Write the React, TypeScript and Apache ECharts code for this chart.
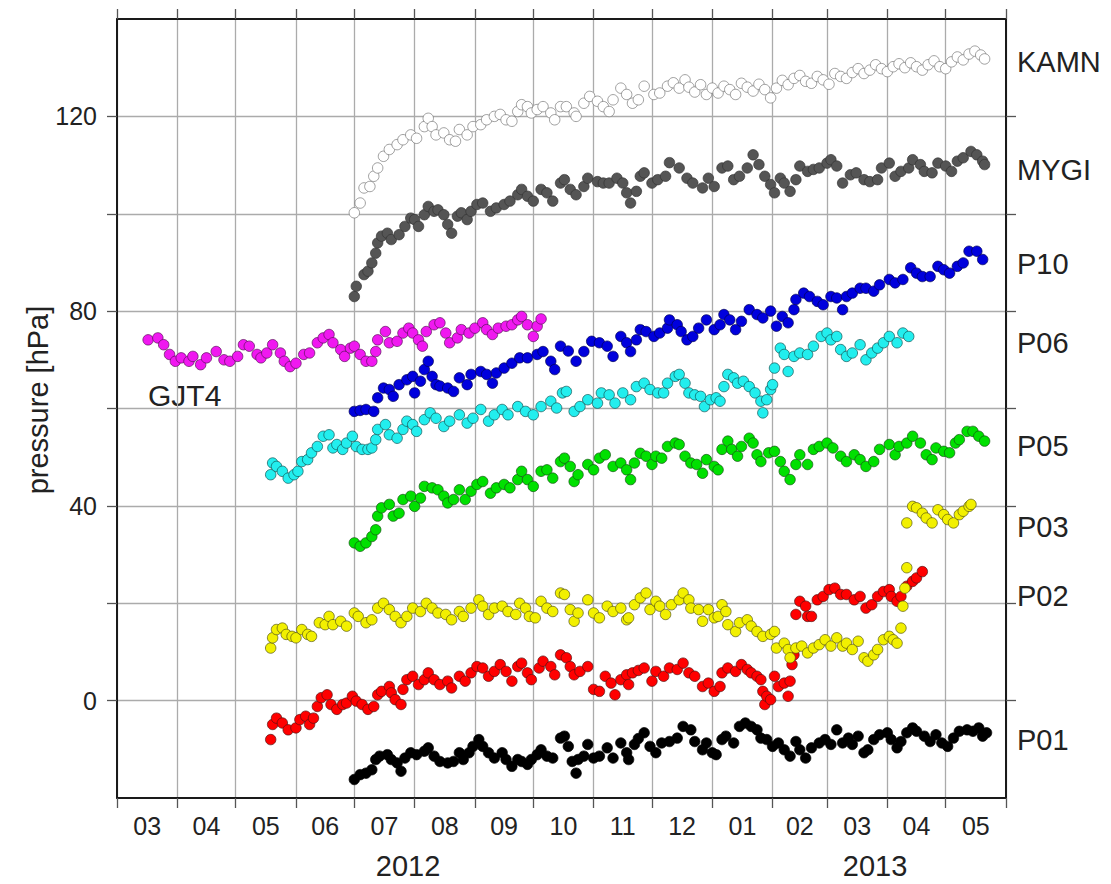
import React, { useEffect, useRef } from 'react';
import * as echarts from 'echarts';

// x = day number counted from 2012-03-01
const MONTH_LABELS = ['03', '04', '05', '06', '07', '08', '09', '10', '11', '12', '01', '02', '03', '04', '05'];
const MONTH_STARTS = [0, 31, 61, 92, 122, 153, 184, 214, 245, 275, 306, 337, 365, 396, 426, 457];
const Y_TICKS = [0, 20, 40, 60, 80, 100, 120];
const Y_LABELED = [0, 40, 80, 120];

const KAMN: [number, number][] = [[122,100.2],[125,102.2],[127,105.3],[130,105.6],[132,107.7],[134,109.4],[137,111.8],[140,113.2],[144,114.2],[147,115.2],[151,116.2],[154,115.5],[158,117.9],[160,119.6],[162,117.9],[164,116.2],[168,116.6],[171,115.2],[174,114.9],[176,117.3],[180,116.2],[183,117.9],[187,118.3],[190,119.3],[194,120],[197,120.4],[200,119.3],[203,119],[206,121],[208,122.4],[211,122],[213,120.7],[216,121.4],[219,122],[223,120.7],[225,119.3],[228,122],[231,122],[235,120.7],[236,120],[240,122.7],[243,124.1],[247,123.1],[250,122],[253,121],[255,123.4],[259,125.8],[262,124.5],[265,122.7],[268,123.4],[271,126.2],[276,124.5],[279,124.8],[283,126.2],[286,126.9],[289,125.8],[292,127.5],[294,126],[297,125],[300,126.5],[303,124.5],[306,125.8],[309,124.8],[312,126.2],[315,125.5],[318,124.5],[321,126.8],[324,126],[327,125.2],[330,126.6],[333,125.5],[336,123.8],[339,125.8],[342,127.4],[345,126.5],[348,127.8],[351,128.4],[354,127.2],[357,126.8],[360,128.2],[363,127.5],[366,126.6],[369,128.8],[372,128.2],[375,127.8],[378,129],[381,129.8],[384,128.8],[387,129.5],[390,130.6],[393,129.8],[396,129.2],[399,130.2],[402,130.8],[405,130],[408,131],[411,130.2],[414,129.5],[417,130.6],[420,131.4],[423,130.2],[426,129.8],[429,131.2],[432,132.2],[435,131.6],[438,132.8],[441,133.4],[444,132.6],[446,131.8]];
const MYGI: [number, number][] = [[122,83],[123,85.1],[127,87.5],[129,88.2],[131,89.9],[133,91.9],[134,94],[136,95.4],[139,96],[141,94.7],[145,95.7],[148,97.4],[151,99.1],[153,98.8],[155,97.4],[158,99.8],[160,101.5],[163,100.5],[165,100.8],[168,99.8],[170,97.8],[172,96],[175,99.5],[177,100.2],[180,98.8],[182,100.5],[185,101.9],[188,102.2],[192,100.5],[195,101.2],[199,101.9],[202,102.6],[206,103.9],[208,105],[211,103.6],[214,102.6],[218,105],[221,104.3],[224,102.6],[228,106.3],[230,107],[233,105],[236,103.9],[240,105.6],[242,107.3],[247,106.6],[250,106.3],[253,106.3],[257,107.3],[260,106.3],[262,104.3],[264,102.2],[267,104.6],[269,107.7],[271,108.4],[275,106.3],[278,107],[282,107.7],[284,110.5],[289,109.4],[293,107.3],[296,106.3],[301,105.3],[304,107.3],[307,105.6],[311,109.4],[314,109.8],[317,107],[320,107.7],[324,109.4],[327,112.1],[330,110.1],[333,107.7],[336,106],[338,104.3],[341,107.3],[343,106.3],[346,104.6],[349,107],[351,109.8],[355,108.7],[358,109.1],[361,109.4],[365,110.4],[367,111.1],[370,109.8],[373,106.3],[377,108],[380,108.4],[384,107],[387,106.6],[391,107],[393,109.4],[397,110.4],[400,107.7],[403,108.7],[407,109.4],[409,111.1],[413,110.1],[415,108.7],[419,108.4],[422,110.4],[426,109.8],[429,108.7],[432,110.8],[435,111.5],[439,112.8],[442,112.1],[445,110.8],[446,110.1]];
const P10: [number, number][] = [[122,59.4],[125,59.6],[128,59.8],[132,59.4],[134,62.2],[137,64.2],[140,63.9],[142,62.5],[145,64.9],[149,65.9],[152,66.6],[153,63.2],[156,65.6],[158,68],[160,69.7],[162,66.6],[164,64.9],[166,64.6],[170,64.2],[173,63.5],[176,66.3],[180,64.9],[182,67],[187,67.6],[190,67],[193,65.2],[195,67.3],[199,68.3],[203,69.3],[207,70.4],[211,70.4],[216,71.1],[219,71.7],[223,69.7],[225,68],[228,72.8],[232,71.8],[236,69.7],[240,71.7],[244,73.8],[248,73.5],[252,72.8],[255,70.7],[259,74.8],[262,73.5],[264,71.7],[267,74.1],[269,76.2],[272,75.8],[276,74.8],[279,75.5],[283,76.5],[284,78.2],[288,77.2],[290,75.8],[293,74.1],[296,74.8],[299,76.5],[303,78.2],[307,76.2],[310,77.2],[312,79.3],[315,78.2],[318,76.2],[321,77.9],[325,80.3],[329,79.3],[332,78.6],[336,80],[339,76.9],[342,78.9],[345,77.6],[348,80.3],[349,82.4],[353,83.7],[356,83],[360,82],[363,81.3],[367,83],[370,82.7],[373,80.3],[375,83],[378,83.7],[382,84.7],[385,84.7],[389,84.1],[392,85.4],[397,86.5],[400,85.8],[404,86.5],[408,88.9],[411,87.8],[414,87.1],[418,87.1],[422,89.2],[425,88.5],[428,87.8],[432,89.2],[435,89.9],[438,92.3],[442,92.3],[445,90.6]];
const GJT4: [number, number][] = [[16,74.1],[21,74.5],[24,73.1],[27,71.1],[30,69.7],[33,70.4],[37,69.7],[39,70.7],[43,69],[46,70.4],[51,71.7],[55,70],[58,69.7],[62,70.7],[65,73.1],[68,72.8],[72,71.1],[74,70.4],[77,71.4],[80,73.1],[84,71.4],[86,69.7],[89,68.6],[92,69.3],[96,71.1],[99,71.4],[103,73.5],[106,74.5],[109,75.2],[111,73.5],[115,72.1],[117,70.7],[120,72.4],[122,72.8],[125,71.1],[128,69.7],[131,69.7],[133,71.7],[134,74.1],[138,75.8],[140,73.5],[144,73.8],[147,75.5],[150,76.5],[152,75.5],[155,74.1],[157,72.8],[159,75.8],[163,77.2],[166,77.6],[169,75.5],[171,73.5],[175,74.5],[177,76.2],[181,75.5],[184,76.5],[188,77.6],[190,76.2],[193,75.2],[196,76.5],[200,76.9],[203,77.2],[206,78.2],[208,78.9],[211,77.2],[214,74.8],[216,76.9],[218,78.4]];
const P06: [number, number][] = [[79,46.4],[80,48.8],[82,48.1],[85,47.1],[88,45.7],[91,46.4],[93,47.1],[95,49.1],[98,49.5],[100,50.9],[103,52.2],[106,54.3],[109,54.6],[111,51.9],[113,52.6],[116,51.6],[118,52.9],[121,54.3],[123,52.2],[126,51.6],[129,51.6],[131,51.9],[133,53.6],[134,55.7],[138,56.7],[140,54.6],[144,53.9],[147,55.7],[149,57.4],[152,56.7],[154,55.3],[158,57.7],[161,59.1],[164,58],[168,56.3],[171,57.4],[176,58.7],[180,57],[183,58],[187,59.8],[191,57.4],[194,58.7],[198,59.8],[201,58.7],[206,60.4],[210,59.4],[214,58.7],[218,60.4],[223,61.5],[226,60.1],[229,63.2],[231,63.5],[235,59.4],[238,60.4],[242,61.8],[247,61.1],[249,63.2],[253,62.8],[256,61.1],[260,63.2],[264,61.8],[267,64.5],[271,65.2],[274,63.9],[278,63.2],[281,63.2],[283,65.2],[287,66.6],[289,67],[292,65.2],[294,63.2],[297,62.8],[300,62.5],[302,60.4],[305,61.8],[308,62.2],[310,61.5],[312,64.5],[314,67],[317,66.3],[319,65.2],[322,65.6],[325,64.5],[328,63.2],[331,61.5],[332,59.1],[334,61.8],[336,63.9],[337,64.9],[338,68.3],[341,72.4],[343,71.1],[345,67.6],[348,70.7],[351,71.4],[355,71.1],[358,72.8],[362,74.8],[365,75.5],[367,74.1],[370,74.8],[372,72.1],[375,70.7],[378,71.4],[382,73.1],[385,70],[388,71.4],[391,72.4],[394,73.5],[397,74.8],[401,73.5],[404,75.5],[407,74.8]];
const P05: [number, number][] = [[122,32.4],[125,31.7],[128,32.4],[131,33.7],[133,35.1],[134,37.9],[136,39.6],[140,40.3],[142,37.9],[145,38.5],[147,41.3],[151,42],[153,39.9],[156,41.6],[158,44],[162,43.7],[165,43.3],[168,42],[170,40.6],[173,41.3],[176,43.3],[179,41.3],[182,43],[185,44.4],[188,45],[192,42.6],[195,43.7],[199,44.4],[202,43.7],[206,45.4],[208,47.1],[211,45.4],[214,44],[218,47.1],[221,47.4],[224,45.7],[228,49.1],[230,49.8],[233,48.1],[235,45],[237,46.4],[242,48.5],[245,47.4],[248,49.8],[251,50.5],[255,48.1],[259,48.8],[262,47.4],[264,45.4],[266,48.8],[269,50.8],[272,50.2],[275,48.5],[277,50.2],[280,49.8],[283,52.2],[287,52.9],[289,52.6],[292,50.2],[295,48.8],[298,48.5],[301,46.7],[303,49.5],[307,48.1],[309,47.4],[311,51.6],[314,53.3],[316,51.6],[319,50.2],[321,52.2],[325,53.9],[327,52.9],[329,50.5],[331,49.1],[335,50.9],[338,51.2],[341,49.1],[343,47.1],[346,45.4],[349,48.5],[351,50.5],[355,48.5],[358,51.6],[361,52.2],[365,52.9],[368,51.9],[372,50.2],[375,49.1],[379,50.5],[382,49.5],[385,48.1],[389,49.1],[392,51.6],[397,52.6],[400,50.5],[402,52.2],[406,52.9],[409,54.3],[413,52.9],[416,50.5],[419,49.5],[421,51.9],[425,51.2],[428,50.9],[431,52.9],[433,53.6],[437,55.3],[440,55.3],[443,54.3],[446,53.3]];
const P03: [number, number][] = [[79,10.8],[80,12.9],[82,14.6],[85,14.9],[87,13.6],[90,13.2],[92,12.9],[95,14.6],[98,13.6],[100,13.2],[104,16],[107,15.6],[109,17.3],[111,15.6],[115,16.3],[118,15.3],[122,18],[124,17.3],[128,16],[131,16.6],[134,19],[137,20],[140,18.7],[143,17.3],[146,16],[149,17.3],[152,19],[156,18.3],[159,20],[162,19],[165,18],[169,17.7],[172,16.6],[176,18.3],[178,17.3],[182,19],[186,20.7],[188,19.4],[191,17.7],[194,19],[198,19.4],[201,18.3],[205,17.7],[207,20],[210,19],[212,17.3],[215,17],[218,20.4],[221,19],[224,18.3],[228,22.1],[230,21.8],[233,18.7],[235,16.3],[237,18],[242,20.7],[245,18],[248,17],[252,19.4],[255,18.3],[259,19],[262,16.6],[263,17],[266,19.7],[269,21.1],[272,22.1],[274,18.7],[277,20.4],[279,19.4],[282,17.7],[285,19.7],[289,20.7],[291,22.1],[294,20.7],[295,19],[299,18.7],[301,16.3],[304,18.7],[307,17],[309,17.3],[311,19.7],[313,18.3],[314,15.6],[318,14.2],[320,16],[324,16.6],[326,15.3],[329,14.2],[332,13.2],[336,13.6],[338,14.2],[339,10.8],[343,11.8],[345,10.5],[346,8.8],[349,10.8],[352,11.2],[355,9.8],[358,10.8],[361,11.5],[364,12.5],[367,11.2],[370,12.9],[373,11.2],[375,11.8],[378,10.5],[381,12.2],[384,8.8],[386,8.1],[389,9.4],[391,10.5],[394,12.5],[397,13.2],[399,12.5],[401,11.8],[403,14.9],[404,19.4],[405,23.1],[406,27.3],[406,36.5],[409,39.9],[411,39.6],[414,38.5],[416,37.5],[419,36.5],[422,39.2],[425,38.2],[427,37.2],[430,36.5],[433,38.2],[435,38.9],[438,39.9],[439,40.3]];
const P02: [number, number][] = [[79,-8],[80,-4.9],[82,-3.6],[85,-4.6],[88,-6],[92,-5.6],[94,-3.9],[97,-3.2],[99,-4.9],[101,-3.6],[103,-1.2],[105,0.6],[108,1.2],[110,-0.8],[113,-1.8],[116,-0.8],[118,-0.5],[121,0.9],[123,-0.1],[126,-0.8],[129,-1.8],[132,-1.2],[134,1.2],[136,1.9],[140,2.9],[141,1.6],[143,0.2],[146,-0.8],[147,2.3],[149,4.3],[152,5],[155,3.3],[158,4.3],[160,5.7],[163,4.3],[166,3.3],[170,4],[172,2.6],[176,5],[179,4],[182,5.7],[185,7],[188,6.7],[191,5],[194,6],[197,7.4],[200,6],[203,4],[206,7],[208,7.7],[211,5.7],[213,4.3],[217,6.7],[219,8.1],[223,7],[225,5.3],[228,9.4],[231,8.8],[233,7],[235,5.3],[238,6],[242,7],[245,2.3],[248,1.9],[251,5],[254,3.6],[256,1.2],[259,4.3],[262,5.3],[263,3.3],[265,5.7],[268,6.2],[271,6.7],[275,4],[277,6],[281,5],[284,6.7],[288,6.4],[291,7.7],[294,5.7],[297,5],[301,2.9],[304,3.6],[307,1.9],[310,2.9],[311,5.7],[314,6.7],[318,6],[321,7.4],[324,6.4],[326,5.7],[329,5],[331,4.3],[332,1.9],[333,-0.8],[334,0.9],[336,0.2],[338,5],[340,2.9],[343,3.6],[345,0.9],[346,4],[347,7.4],[348,9.4],[349,17.7],[351,20.4],[354,19.4],[355,17.3],[357,17.3],[360,20.7],[363,21.4],[366,22.8],[369,23.1],[372,21.8],[375,21.8],[379,20.7],[382,21.4],[385,19],[388,19.7],[391,21.4],[394,22.4],[397,22.8],[398,21.4],[401,20.4],[403,21.4],[406,23.5],[409,24.5],[411,25.2],[414,26.5]];
const P01: [number, number][] = [[122,-16.2],[125,-15.2],[128,-14.9],[131,-14.2],[133,-12.1],[135,-11.4],[139,-11.1],[141,-12.1],[144,-12.8],[146,-14.5],[148,-11.8],[151,-10.7],[154,-11.1],[158,-10.4],[160,-9.7],[163,-11.4],[166,-12.5],[170,-12.8],[173,-12.5],[176,-10.7],[178,-12.1],[181,-10.7],[183,-9.4],[186,-8],[188,-9.4],[191,-10.7],[194,-11.8],[198,-10.7],[200,-12.1],[203,-13.5],[206,-12.1],[208,-12.5],[211,-13.1],[213,-12.1],[216,-11.1],[218,-10.1],[221,-11.4],[224,-11.8],[228,-7.7],[230,-7.3],[232,-9.4],[234,-12.5],[236,-14.9],[237,-12.1],[240,-11.4],[242,-9],[245,-11.8],[248,-11.4],[252,-9.7],[255,-11.8],[259,-8.7],[262,-10.7],[263,-12.1],[266,-9],[268,-7.8],[271,-6.6],[274,-9.4],[277,-10.7],[280,-8.7],[284,-8.4],[288,-7.7],[291,-5.3],[295,-6],[297,-8.4],[301,-10.1],[303,-8.7],[306,-10.7],[308,-11.1],[311,-8],[313,-7.3],[317,-8.7],[320,-5.3],[323,-4.6],[326,-5.3],[329,-6],[331,-7.7],[334,-8],[337,-9.4],[340,-8.7],[343,-10.1],[346,-11.4],[349,-8.4],[351,-10.1],[354,-11.8],[357,-9.7],[361,-8.7],[364,-8],[367,-9],[370,-6],[373,-8.7],[376,-7.7],[378,-9],[381,-7.3],[384,-10.7],[386,-10.1],[389,-8],[392,-7],[396,-6.6],[398,-8],[401,-9.7],[403,-8.4],[406,-6.6],[409,-5.6],[411,-6.3],[415,-7.3],[418,-8.4],[421,-7],[424,-8.7],[427,-9.4],[430,-7.7],[433,-6.3],[437,-6],[440,-6.3],[443,-5.6],[445,-7.3],[447,-6.6]];

const FONT = '"Liberation Sans", Arial, Helvetica, sans-serif';
const MONTH_MIDS = MONTH_STARTS.slice(0, -1).map((s, i) => (s + MONTH_STARTS[i + 1]) / 2);

const STATION_LABELS: { text: string; y: number }[] = [
  { text: 'KAMN', y: 62 },
  { text: 'MYGI', y: 170 },
  { text: 'P10', y: 264 },
  { text: 'P06', y: 343 },
  { text: 'P05', y: 446 },
  { text: 'P03', y: 527 },
  { text: 'P02', y: 596 },
  { text: 'P01', y: 740 },
];

function scatter(name: string, data: [number, number][], color: string, border: string) {
  return {
    type: 'scatter',
    name,
    data,
    symbol: 'circle',
    symbolSize: 10.5,
    itemStyle: { color, borderColor: border, borderWidth: 0.7, opacity: 1 },
    emphasis: { disabled: true },
    silent: true,
    xAxisIndex: 0,
    yAxisIndex: 0,
  };
}

export default function App() {
  const ref = useRef<HTMLDivElement>(null);
  useEffect(() => {
    if (!ref.current) return;
    const chart = echarts.init(ref.current, null, { renderer: 'svg' });
    const frame = { show: true, onZero: false, lineStyle: { color: '#1a1a1a', width: 2 } };
    const tickStyle = { color: '#555', width: 1.3 };
    const grid = { color: '#ababab', width: 1.3 };
    const option: any = {
      animation: false,
      backgroundColor: '#ffffff',
      grid: { left: 117, right: 105, top: 19, bottom: 86, containLabel: false, outerBoundsMode: 'none' },
      xAxis: [
        {
          type: 'value', min: 0, max: 457, position: 'bottom',
          axisLine: frame,
          axisTick: { show: true, inside: false, length: 10, customValues: MONTH_STARTS, lineStyle: tickStyle },
          splitLine: { show: true, lineStyle: grid },
          axisLabel: {
            show: true, customValues: MONTH_MIDS, margin: 15,
            fontFamily: FONT, fontSize: 25, color: '#222',
            formatter: (v: number) => {
              const i = MONTH_MIDS.indexOf(v);
              return i >= 0 ? MONTH_LABELS[i] : '';
            },
          },
        },
        {
          type: 'value', min: 0, max: 457, position: 'top',
          axisLine: frame,
          axisTick: { show: true, inside: false, length: 10, customValues: MONTH_STARTS, lineStyle: tickStyle },
          splitLine: { show: false },
          axisLabel: { show: false },
        },
      ],
      yAxis: [
        {
          type: 'value', min: -20, max: 140, interval: 20, position: 'left',
          axisLine: frame,
          axisTick: { show: true, inside: false, length: 10, customValues: Y_TICKS, lineStyle: tickStyle },
          splitLine: { show: true, lineStyle: grid },
          axisLabel: {
            show: true, customValues: Y_LABELED, margin: 20,
            fontFamily: FONT, fontSize: 25, color: '#222',
          },
        },
        {
          type: 'value', min: -20, max: 140, interval: 20, position: 'right',
          axisLine: frame,
          axisTick: { show: true, inside: false, length: 10, customValues: Y_TICKS, lineStyle: tickStyle },
          splitLine: { show: false },
          axisLabel: { show: false },
        },
      ],
      graphic: [
        {
          type: 'text', x: 38, y: 400, rotation: Math.PI / 2,
          style: { text: 'pressure [hPa]', font: `29px ${FONT}`, fill: '#222', align: 'center', verticalAlign: 'middle' },
        },
        {
          type: 'text', x: 148, y: 395,
          style: { text: 'GJT4', font: `30px ${FONT}`, fill: '#222', align: 'left', verticalAlign: 'middle' },
        },
        {
          type: 'text', x: 408, y: 866,
          style: { text: '2012', font: `29px ${FONT}`, fill: '#222', align: 'center', verticalAlign: 'middle' },
        },
        {
          type: 'text', x: 875, y: 866,
          style: { text: '2013', font: `29px ${FONT}`, fill: '#222', align: 'center', verticalAlign: 'middle' },
        },
        ...STATION_LABELS.map((s) => ({
          type: 'text', x: 1017, y: s.y,
          style: { text: s.text, font: `29px ${FONT}`, fill: '#222', align: 'left', verticalAlign: 'middle' },
        })),
      ],
      series: [
        scatter('GJT4', GJT4, '#f018f0', '#5a105a'),
        scatter('P01', P01, '#000000', '#000000'),
        scatter('P02', P02, '#ff0000', '#551111'),
        scatter('P03', P03, '#f2f000', '#555511'),
        scatter('P05', P05, '#00e000', '#115511'),
        scatter('P06', P06, '#22eeee', '#115555'),
        scatter('P10', P10, '#0000dd', '#000055'),
        scatter('MYGI', MYGI, '#555555', '#333333'),
        scatter('KAMN', KAMN, '#ffffff', '#777777'),
      ],
    };
    chart.setOption(option);
    return () => chart.dispose();
  }, []);
  return (
    <div
      ref={ref}
      style={{ position: 'absolute', left: 0, top: 0, width: 1111, height: 884, background: '#fff' }}
    />
  );
}
